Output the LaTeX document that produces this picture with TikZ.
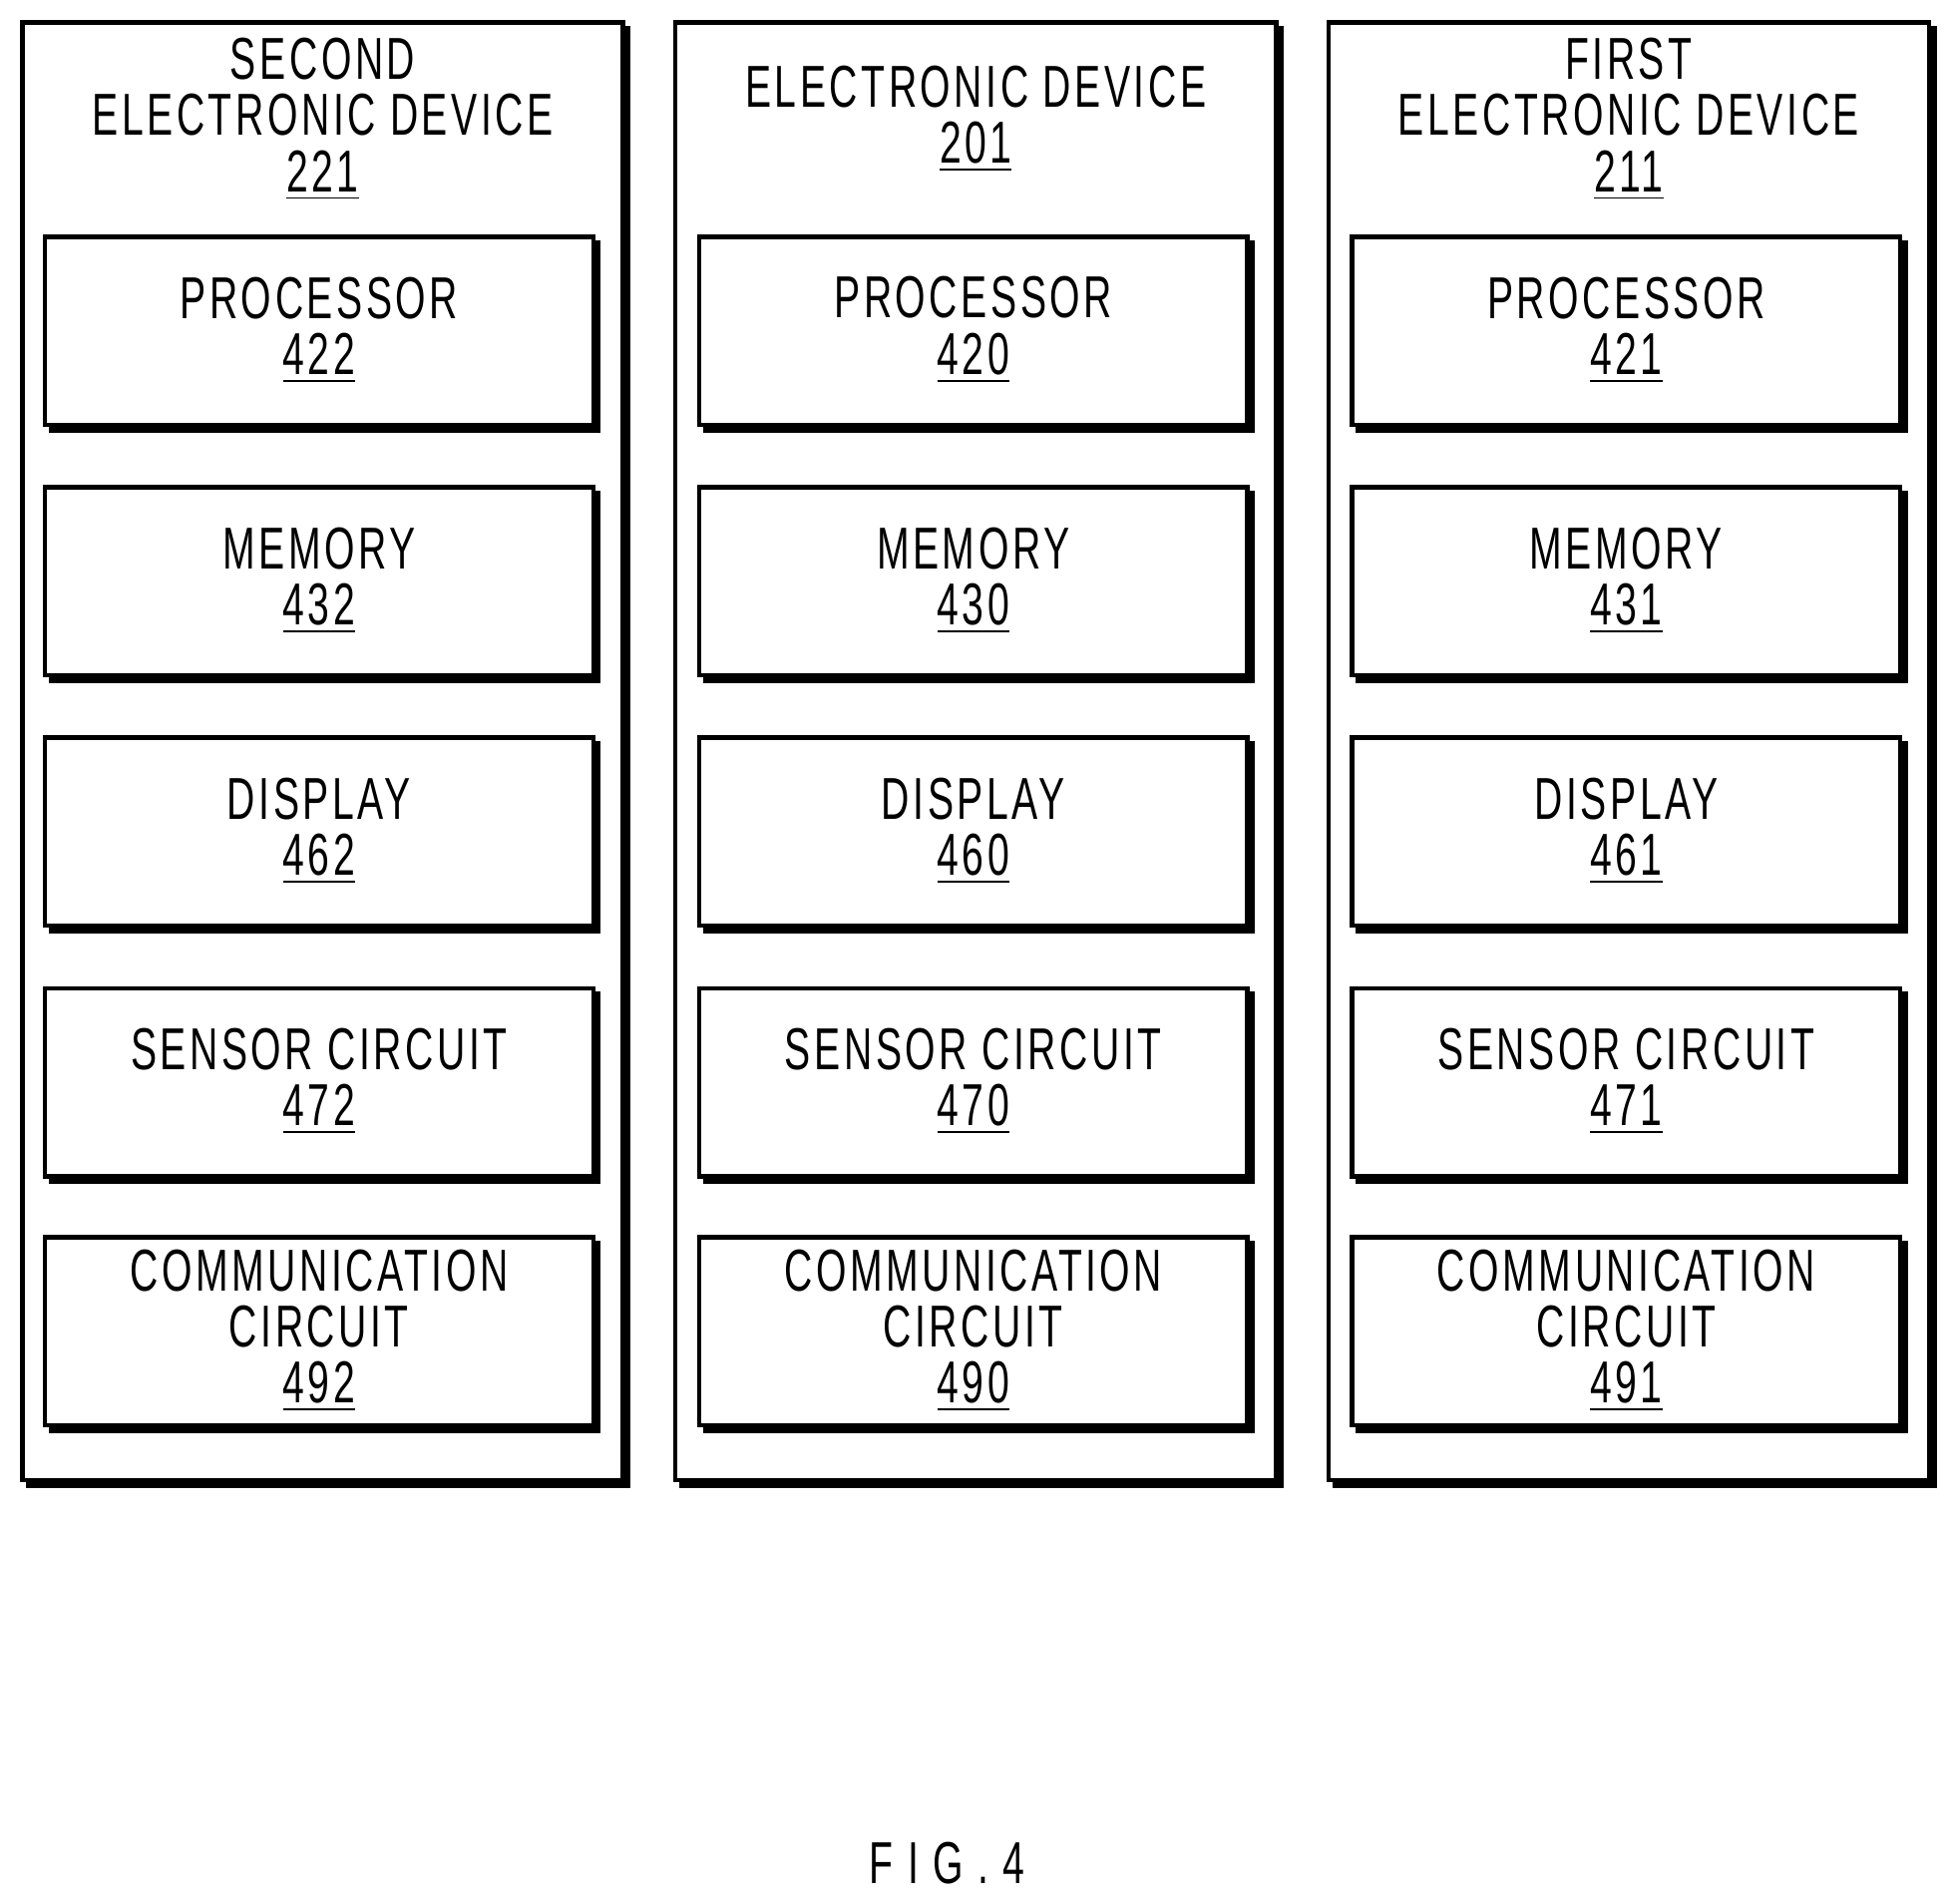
\documentclass[tikz,border=0pt]{standalone}
\usepackage{fontspec}
\setmainfont{Liberation Sans}[FakeStretch=0.66,LetterSpace=6]
\begin{document}
\begin{tikzpicture}[x=0.01cm,y=-0.01cm,
  lbl/.style={align=center,font=\fontsize{13.5}{12.8}\selectfont,inner sep=0pt},
  box/.style={draw,line width=1pt}]
\useasboundingbox (0,0) rectangle (1568,1528);
\newcommand{\shbox}[5]{% name, x1,y1,x2,y2
  \draw[box] (#2,#3) rectangle (#4,#5);
  \draw[line width=1.8pt] (#4+3,#3+3) -- (#4+3,#5+3) -- (#2+3,#5+3);
  \coordinate (#1) at ({(#2+#4)/2},{(#3+#5)/2});}
\foreach \ox/\ix/\ty/\t/\n/\pp/\mm/\dd/\ss/\cc in {
  18/36/30/{SECOND\\ELECTRONIC DEVICE}/221/422/432/462/472/492,
  542/561/52/{ELECTRONIC DEVICE}/201/420/430/460/470/490,
  1066/1085/30/{FIRST\\ELECTRONIC DEVICE}/211/421/431/461/471/491}{
  \pgfmathsetmacro\oxx{\ox+482}
  \pgfmathsetmacro\ixx{\ix+440}
  \shbox{o\n}{\ox}{18}{\oxx}{1188}
  \node[lbl,anchor=north] (t\n) at ({\ox+241},\ty) {\t\\\underline{\n}};
  \foreach \y/\w in {190/{PROCESSOR\\\underline{\pp}},391/{MEMORY\\\underline{\mm}},592/{DISPLAY\\\underline{\dd}},793/{SENSOR CIRCUIT\\\underline{\ss}}}{
    \shbox{b\n\y}{\ix}{\y}{\ixx}{\y+151}
    \node[lbl] (l\n\y) at ({\ix+220},\y+75) {\w};}
  \shbox{c\n}{\ix}{993}{\ixx}{1144}
  \node[lbl] (lc\n) at ({\ix+220},1068) {COMMUNICATION\\CIRCUIT\\\underline{\cc}};
}
\node[lbl] (fig) at (760,1495) {F I G . 4};
\end{tikzpicture}
\end{document}
